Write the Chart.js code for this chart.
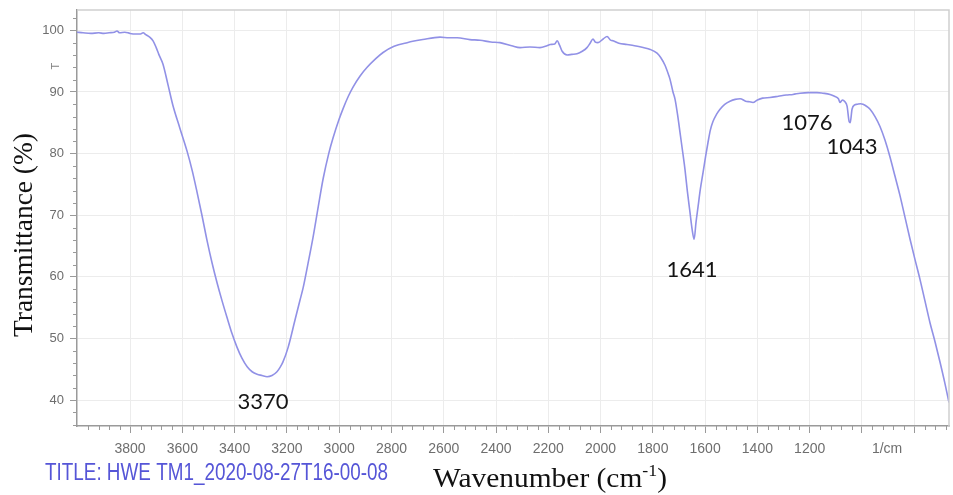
<!DOCTYPE html>
<html>
<head>
    <title>FTIR Spectrum</title>
    <script src="https://cdn.jsdelivr.net/npm/chart.js"></script>
    <style>
        body { margin: 0; background: #fff; }
        #chartContainer { width: 953px; height: 495px; position: relative; }
    </style>
</head>
<body>

    <div id="chartContainer">
        <canvas id="ftirChart"></canvas>
    </div>

    <script>
        // Spectrum (wavenumber in cm-1, transmittance in %)
        var wavenumbers = [
            4003, 3980, 3950, 3920, 3900, 3880, 3860, 3850, 3840, 3820, 3800, 3780, 3760, 3750, 3740,
            3725, 3712, 3700, 3690, 3674, 3655, 3636, 3610, 3582, 3562, 3544, 3525, 3505, 3486, 3467,
            3448, 3429, 3410, 3391, 3372, 3352, 3333, 3314, 3295, 3276, 3257, 3238, 3225, 3215, 3195,
            3169, 3150, 3138, 3120, 3100, 3080, 3061, 3040, 3023, 3000, 2985, 2965, 2947, 2920, 2893,
            2860, 2832, 2790, 2740, 2680, 2614, 2580, 2549, 2500, 2461, 2420, 2385, 2340, 2308, 2270,
            2232, 2205, 2193, 2175, 2166, 2157, 2147, 2128, 2110, 2090, 2070, 2052, 2040, 2029, 2020,
            2010, 1990, 1975, 1962, 1952, 1930, 1899, 1870, 1837, 1810, 1784, 1770, 1753, 1740, 1734,
            1723, 1715, 1705, 1696, 1686, 1677, 1668, 1658, 1650, 1642, 1635, 1627, 1618, 1608, 1598,
            1589, 1580, 1570, 1556, 1543, 1525, 1505, 1485, 1466, 1445, 1430, 1417, 1400, 1380, 1352,
            1320, 1290, 1264, 1237, 1205, 1172, 1150, 1122, 1105, 1090, 1084, 1075, 1065, 1057, 1049,
            1045, 1038, 1028, 1019, 1005, 996, 980, 969, 950, 931, 912, 893, 874, 854, 835,
            816, 797, 778, 759, 740, 720, 701, 682, 667
        ];
        var transmittance = [
            99.7, 99.6, 99.5, 99.6, 99.5, 99.6, 99.7, 99.9, 99.6, 99.7, 99.5, 99.4, 99.4, 99.6, 99.3,
            98.9, 98.3, 97.2, 96.1, 94.5, 91.2, 87.8, 84.2, 80.4, 77.2, 73.8, 70.0, 65.8, 62.2, 59.0,
            56.1, 53.4, 50.8, 48.6, 46.8, 45.4, 44.6, 44.2, 44.0, 43.8, 44.0, 44.6, 45.4, 46.2, 48.6,
            53.0, 56.2, 58.2, 62.0, 66.4, 71.4, 76.0, 80.0, 82.6, 85.6, 87.3, 89.3, 90.8, 92.6, 94.0,
            95.4, 96.4, 97.4, 98.0, 98.5, 98.9, 98.8, 98.8, 98.5, 98.4, 98.1, 98.0, 97.5, 97.2, 97.3,
            97.2, 97.5, 97.7, 97.8, 98.3, 97.6, 96.6, 96.0, 96.1, 96.2, 96.6, 97.2, 97.9, 98.6, 98.1,
            98.0, 98.6, 99.0, 98.4, 98.3, 97.9, 97.7, 97.5, 97.2, 96.9, 96.3, 95.6, 94.3, 92.8, 92.0,
            90.0, 88.8, 86.2, 83.4, 80.3, 77.4, 73.9, 70.5, 67.8, 66.1, 68.8, 71.4, 74.3, 76.9, 79.6,
            81.8, 83.8, 85.2, 86.4, 87.2, 88.0, 88.5, 88.8, 88.9, 88.5, 88.4, 88.3, 88.7, 89.0, 89.1,
            89.3, 89.5, 89.6, 89.8, 89.9, 89.9, 89.8, 89.6, 89.3, 88.9, 88.3, 88.7, 88.4, 87.7, 85.2,
            85.0, 87.2, 87.9, 88.0, 88.1, 88.0, 87.6, 87.2, 86.0, 84.4, 82.2, 79.5, 76.4, 73.1, 69.6,
            66.1, 62.8, 59.6, 56.1, 52.6, 49.4, 46.1, 42.6, 39.6
        ];

        // Axis ticks
        var xMajorTicks = [3800, 3600, 3400, 3200, 3000, 2800, 2600, 2400, 2200, 2000, 1800, 1600, 1400, 1200, 1000, 800];
        var xTickLabels = ["3800", "3600", "3400", "3200", "3000", "2800", "2600", "2400", "2200", "2000", "1800", "1600", "1400", "1200", "", ""];
        var yMajorTicks = [40, 50, 60, 70, 80, 90, 100];
        var yTickLabels = ["40", "50", "60", "70", "80", "90", "100"];

        // Peak labels, anchored in data coordinates
        var peakLabels = ["3370", "1641", "1076", "1043"];
        var peakLabelWn = [3291, 1650, 1210, 1038];
        var peakLabelT = [38.6, 59.9, 83.9, 79.9];

        var points = wavenumbers.map(function (wn, i) { return { x: wn, y: transmittance[i] }; });

        // Draw text squeezed/stretched horizontally to a given width
        function fitText(ctx, text, x, y, width, align) {
            var w = ctx.measureText(text).width;
            var s = width / w;
            ctx.save();
            ctx.translate(x, y);
            ctx.scale(s, 1);
            ctx.textAlign = "left";
            var dx = align === "center" ? -w / 2 : 0;
            ctx.fillText(text, dx, 0);
            ctx.restore();
        }

        var extras = {
            id: "extras",
            afterDraw: function (chart) {
                var ctx = chart.ctx;
                var xs = chart.scales.x;
                var ys = chart.scales.y;
                var a = chart.chartArea;

                ctx.save();

                // top and right frame
                ctx.strokeStyle = "#cfcfcf";
                ctx.lineWidth = 1.5;
                ctx.beginPath();
                ctx.moveTo(a.left, a.top);
                ctx.lineTo(a.right, a.top);
                ctx.lineTo(a.right, a.bottom);
                ctx.stroke();

                // minor ticks
                ctx.strokeStyle = "#9a9a9a";
                ctx.lineWidth = 1;
                ctx.beginPath();
                for (var v = 4000; v >= xs.min; v -= 40) {
                    if (v % 200 === 0) continue;
                    var px = Math.round(xs.getPixelForValue(v)) + 0.5;
                    ctx.moveTo(px, a.bottom);
                    ctx.lineTo(px, a.bottom + 4);
                }
                for (var t = 36; t <= 102; t += 2) {
                    if (t % 10 === 0) continue;
                    var py = Math.round(ys.getPixelForValue(t)) + 0.5;
                    ctx.moveTo(a.left, py);
                    ctx.lineTo(a.left - 4, py);
                }
                ctx.stroke();

                // unit label on the x axis
                ctx.fillStyle = "#6e6e6e";
                ctx.font = "14px 'Liberation Sans', Arial, sans-serif";
                ctx.textAlign = "center";
                ctx.textBaseline = "middle";
                ctx.fillText("1/cm", xs.getPixelForValue(904), 449);

                // small rotated T on the y axis
                ctx.save();
                ctx.translate(56, ys.getPixelForValue(94.2));
                ctx.rotate(-Math.PI / 2);
                ctx.font = "11px 'Liberation Sans', Arial, sans-serif";
                ctx.fillStyle = "#808080";
                ctx.fillText("T", 0, 0);
                ctx.restore();

                // y axis title
                ctx.fillStyle = "#111";
                ctx.textBaseline = "alphabetic";
                ctx.save();
                ctx.translate(32, 235);
                ctx.rotate(-Math.PI / 2);
                ctx.font = "27px 'Liberation Serif', 'Times New Roman', serif";
                fitText(ctx, "Transmittance (%)", 0, 0, 204, "center");
                ctx.restore();

                // x axis title with superscript
                var big = "28px 'Liberation Serif', 'Times New Roman', serif";
                var small = "17px 'Liberation Serif', 'Times New Roman', serif";
                ctx.font = big;
                var w1 = ctx.measureText("Wavenumber (cm").width;
                var w3 = ctx.measureText(")").width;
                ctx.font = small;
                var w2 = ctx.measureText("-1").width;
                var total = w1 + w2 + w3;
                var s = 234 / total;
                ctx.save();
                ctx.translate(550 - 117, 487);
                ctx.scale(s, 1);
                ctx.textAlign = "left";
                ctx.font = big;
                ctx.fillText("Wavenumber (cm", 0, 0);
                ctx.font = small;
                ctx.fillText("-1", w1, -11);
                ctx.font = big;
                ctx.fillText(")", w1 + w2, 0);
                ctx.restore();

                // file title
                ctx.fillStyle = "rgb(85,85,215)";
                ctx.font = "23px 'Liberation Sans', Arial, sans-serif";
                fitText(ctx, "TITLE: HWE TM1_2020-08-27T16-00-08", 45, 480, 343, "left");

                // peak labels
                ctx.fillStyle = "#141414";
                ctx.font = "22px Lato, 'Open Sans', sans-serif";
                ctx.textAlign = "center";
                for (var i = 0; i < peakLabels.length; i++) {
                    ctx.fillText(peakLabels[i], xs.getPixelForValue(peakLabelWn[i]), ys.getPixelForValue(peakLabelT[i]));
                }

                ctx.restore();
            }
        };

        var chart = new Chart(document.getElementById("ftirChart"), {
            type: "line",
            data: {
                datasets: [{
                    data: points,
                    borderColor: "rgb(145,145,230)",
                    borderWidth: 1.6,
                    pointRadius: 0,
                    fill: false,
                    cubicInterpolationMode: "monotone"
                }]
            },
            options: {
                responsive: true,
                maintainAspectRatio: false,
                animation: false,
                layout: { padding: { left: 0, right: 4, top: 10, bottom: 0 } },
                plugins: {
                    legend: { display: false },
                    tooltip: { enabled: false }
                },
                scales: {
                    x: {
                        type: "linear",
                        reverse: true,
                        min: 667,
                        max: 4003,
                        afterBuildTicks: function (scale) {
                            scale.ticks = xMajorTicks.map(function (v) { return { value: v }; });
                        },
                        afterFit: function (scale) { scale.height = 69; },
                        ticks: {
                            autoSkip: false,
                            maxRotation: 0,
                            padding: 8,
                            color: "#6e6e6e",
                            font: { family: "'Liberation Sans', Arial, sans-serif", size: 14 },
                            callback: function (value, index) { return xTickLabels[index]; }
                        },
                        grid: { color: "#ececec", tickColor: "#9a9a9a", tickLength: 7 },
                        border: { color: "#9a9a9a", width: 1.5 }
                    },
                    y: {
                        min: 35.8,
                        max: 103.3,
                        afterBuildTicks: function (scale) {
                            scale.ticks = yMajorTicks.map(function (v) { return { value: v }; });
                        },
                        afterFit: function (scale) { scale.width = 77; },
                        ticks: {
                            padding: 6,
                            color: "#6e6e6e",
                            font: { family: "'Liberation Sans', Arial, sans-serif", size: 13, lineHeight: 0.5 },
                            callback: function (value, index) { return yTickLabels[index]; }
                        },
                        grid: { color: "#ececec", tickColor: "#9a9a9a", tickLength: 7 },
                        border: { color: "#9a9a9a", width: 1.5 }
                    }
                }
            },
            plugins: [extras]
        });
    </script>

</body>
</html>
